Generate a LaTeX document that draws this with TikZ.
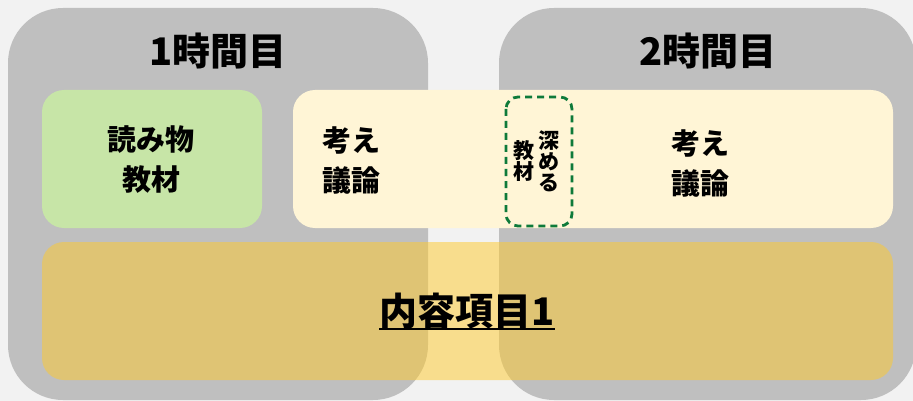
\documentclass[tikz,border=0pt]{standalone}
\usepackage{fontspec}
\setmainfont{Noto Sans CJK JP}
\definecolor{bgc}{HTML}{F2F2F2}
\definecolor{grayc}{HTML}{BFBFBF}
\definecolor{greenc}{HTML}{C7E5A7}
\definecolor{lyellow}{HTML}{FFF5D6}
\definecolor{bandc}{HTML}{FFCA2A}
\definecolor{dgreen}{HTML}{0E7A3A}
\tikzset{
  grayblock/.style={fill=grayc, rounded corners=55pt},
  greenbox/.style={fill=greenc, rounded corners=22pt},
  topbox/.style={fill=lyellow, rounded corners=22pt},
  bandbox/.style={fill=bandc, fill opacity=0.5, rounded corners=22pt},
  dashbox/.style={draw=dgreen, line width=2.8pt, dash pattern=on 7pt off 5pt, rounded corners=12pt},
  title/.style={font=\fontsize{38}{40}\selectfont\bfseries, inner sep=0pt},
  body/.style={font=\fontsize{29}{40}\selectfont\bfseries, inner sep=0pt},
  vert/.style={font=\fontsize{21}{21}\selectfont\bfseries, inner sep=0pt, align=center},
}
\begin{document}
\begin{tikzpicture}[x=1pt,y=-1pt]
\useasboundingbox (0,0) rectangle (913,401);
\clip (0,0) rectangle (913,401);
\fill[bgc] (0,0) rectangle (913,401);
\path[grayblock] (8,8) rectangle (428,400);
\path[grayblock] (499,8) rectangle (916,400);
\path[greenbox] (42,90) rectangle (262,228);
\path[topbox] (293,90) rectangle (893,228);
\path[bandbox] (42,242) rectangle (893,380);
\draw[dashbox] (506,97) rectangle (572,226);
\node[title] (t1) at (218,51) {1時間目};
\node[title] (t2) at (708,51) {2時間目};
\node[body, align=center] (read) at (151,160) {読み物\\教材};
\node[body, align=left, anchor=west] (think1) at (322,161) {考え\\議論};
\node[body, align=left, anchor=west] (think2) at (671,164) {考え\\議論};
\node[vert] (deep) at (549,161.5) {深\\め\\る};
\node[vert] (mat) at (523.5,161) {教\\材};
\node[title] (item) at (467,311) {内容項目1};
\draw[line width=2pt] ([yshift=-4pt]item.base west) -- ([yshift=-4pt]item.base east);
\end{tikzpicture}
\end{document}
